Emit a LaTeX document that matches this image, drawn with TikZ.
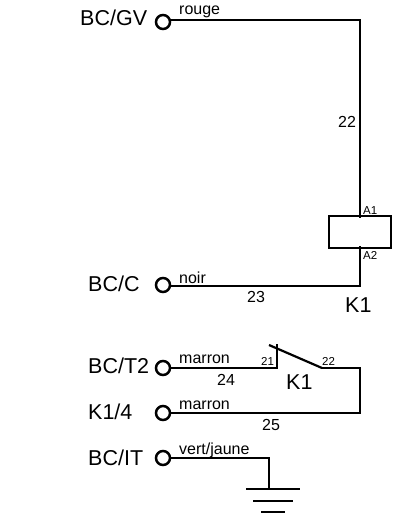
\documentclass[tikz,border=0pt]{standalone}
\usepackage{fontspec}
\setmainfont{Liberation Sans}
\tikzset{
  wire/.style={line width=2.2pt,line cap=rect,line join=miter},
  term/.style={circle,draw,line width=2.5pt,inner sep=0pt,minimum size=14pt,fill=white},
  big/.style={font=\fontsize{21.5}{21.5}\selectfont,inner sep=0pt},
  mid/.style={font=\fontsize{16}{16}\selectfont,inner sep=0pt},
  small/.style={font=\fontsize{16}{16}\selectfont,inner sep=0pt},
  tiny/.style={font=\fontsize{11.5}{11.5}\selectfont,inner sep=0pt},
}
\begin{document}
\begin{tikzpicture}[x=1pt,y=-1pt]
\useasboundingbox (0,0) rectangle (392,516);
\coordinate (cGV) at (360,20);
\coordinate (cA) at (360,217);
\coordinate (cB) at (360,247);
\coordinate (cC) at (360,286);
\coordinate (sw1) at (277,368);
\coordinate (sw2) at (277,345);
\coordinate (bl1) at (269,345);
\coordinate (bl2) at (322,368);
\coordinate (r1) at (360,368);
\coordinate (r2) at (360,413);
\coordinate (gA) at (269,458);
\coordinate (gB) at (269,489);
\node[term] (tGV) at (163,22) {};
\node[term] (tC) at (163,285) {};
\node[term] (tT) at (163,368) {};
\node[term] (tK) at (163,413) {};
\node[term] (tI) at (163,458) {};
\draw[wire] (tGV.east |- cGV) -- (cGV) -- (cA);
\draw[wire] (cB) -- (cC) -- (tC.east |- cC);
\draw[wire] (tT.east) -- (sw1) -- (sw2);
\draw[wire,line cap=butt] (bl1) -- (bl2);
\draw[wire] (bl2) -- (r1) -- (r2) -- (tK.east);
\draw[wire] (tI.east) -- (gA) -- (gB);
\draw[wire,line cap=butt] (246,489) -- (300,489);
\draw[wire,line cap=butt] (253,501) -- (293,501);
\draw[wire,line cap=butt] (261,512) -- (285,512);
\node[draw,line width=2.3pt,minimum width=62pt,minimum height=32pt,inner sep=0pt,anchor=center] (coil) at (360,232) {};
\node[big,anchor=base west] at (80,26) {BC/GV};
\node[big,anchor=base west] at (88,291) {BC/C};
\node[big,anchor=base west] at (88,373) {BC/T2};
\node[big,anchor=base west] at (88,419) {K1/4};
\node[big,anchor=base west] at (88,465) {BC/IT};
\node[big,anchor=base west] at (345,312) {K1};
\node[big,anchor=base west] at (286,389) {K1};
\node[small,anchor=base west] at (179,15) {rouge};
\node[small,anchor=base west] at (179,283) {noir};
\node[small,anchor=base west] at (179,363) {marron};
\node[small,anchor=base west] at (179,409) {marron};
\node[small,anchor=base west] at (179,454) {vert/jaune};
\node[mid,anchor=base west] at (338,127) {22};
\node[mid,anchor=base west] at (247,302) {23};
\node[mid,anchor=base west] at (217,385) {24};
\node[mid,anchor=base west] at (262,430) {25};
\node[tiny,anchor=base west] at (363,214) {A1};
\node[tiny,anchor=base west] at (363,259) {A2};
\node[tiny,anchor=base west] at (261,365) {21};
\node[tiny,anchor=base west] at (322,365) {22};
\end{tikzpicture}
\end{document}
